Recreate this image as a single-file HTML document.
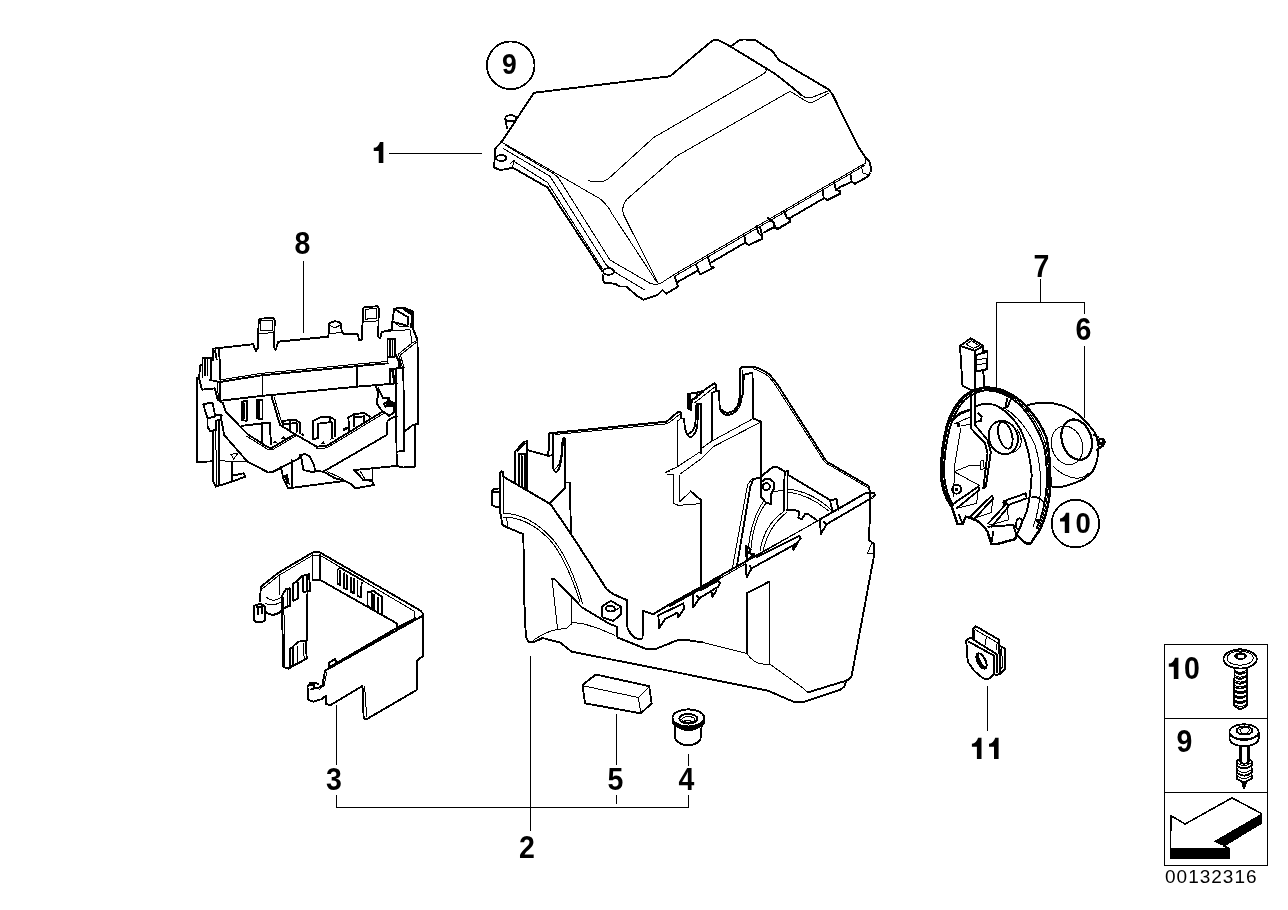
<!DOCTYPE html>
<html><head><meta charset="utf-8">
<style>
html,body{margin:0;padding:0;background:#fff;}
body{width:1288px;height:910px;overflow:hidden;font-family:"Liberation Sans",sans-serif;}
svg{display:block;position:absolute;left:0;top:0;filter:grayscale(1);}
svg *{vector-effect:non-scaling-stroke;}
.k{fill:none;stroke:#000;stroke-width:1.9;stroke-linejoin:round;stroke-linecap:round;}
.n{fill:none;stroke:#000;stroke-width:1;stroke-linejoin:round;stroke-linecap:round;}
.l{fill:none;stroke:#000;stroke-width:1;}
.b{font-family:"Liberation Sans",sans-serif;font-weight:bold;font-size:28.5px;fill:#000;text-anchor:middle;}
.w{fill:#fff;}
</style></head>
<body>
<svg width="1288" height="910" viewBox="0 0 1288 910" shape-rendering="crispEdges">
<rect x="0" y="0" width="1288" height="910" fill="#fff"/>
<!-- LABELS -->
<g id="labels">
<path d="M9.6,-21.2 V0 H5 V-12.2 H0 V-15.3 Q4.5,-15.6 6.2,-21.2 Z" transform="translate(373.75,163.1) scale(1)" fill="#000" shape-rendering="geometricPrecision"/>
<text class="b" transform="translate(527,858) scale(1,1.09)">2</text>
<text class="b" transform="translate(334,790) scale(1,1.09)">3</text>
<text class="b" transform="translate(686.5,790) scale(1,1.09)">4</text>
<text class="b" transform="translate(615.3,790) scale(1,1.09)">5</text>
<text class="b" transform="translate(1083.4,339.5) scale(1,1.09)">6</text>
<text class="b" transform="translate(1041.3,277) scale(1,1.09)">7</text>
<text class="b" transform="translate(302.4,254) scale(1,1.09)">8</text>
<path d="M9.6,-21.2 V0 H5 V-12.2 H0 V-15.3 Q4.5,-15.6 6.2,-21.2 Z" transform="translate(971.9,759) scale(1)" fill="#000" shape-rendering="geometricPrecision"/><path d="M9.6,-21.2 V0 H5 V-12.2 H0 V-15.3 Q4.5,-15.6 6.2,-21.2 Z" transform="translate(989,759) scale(1)" fill="#000" shape-rendering="geometricPrecision"/>
<text class="b" transform="translate(509.3,73.8) scale(1,1.09)" style="font-size:26.5px">9</text>
<path d="M9.6,-21.2 V0 H5 V-12.2 H0 V-15.3 Q4.5,-15.6 6.2,-21.2 Z" transform="translate(1060,533.1) scale(0.96)" fill="#000" shape-rendering="geometricPrecision"/><text class="b" transform="translate(1083.1,533) scale(1,1.09)" style="font-size:27.5px">0</text>
<path d="M9.6,-21.2 V0 H5 V-12.2 H0 V-15.3 Q4.5,-15.6 6.2,-21.2 Z" transform="translate(1168.8,678.9) scale(1)" fill="#000" shape-rendering="geometricPrecision"/><text class="b" transform="translate(1192,678.7) scale(1,1.09)">0</text>
<text class="b" transform="translate(1184.4,751.5) scale(1,1.09)">9</text>
<text x="1165" y="883" style="font-family:'Liberation Sans',sans-serif;font-size:19px;letter-spacing:1.0px;fill:#000">00132316</text>
</g>
<!-- LEADERS -->
<g id="leaders" class="l">
<path d="M389,153.4H481.5"/>
<path d="M303.2,261V332.5"/>
<path d="M336.3,705.3V764.5M336.4,795V807.2H688.6V795M688.4,754V766M616.3,714V764.5M616.1,795V804M530.4,656V831"/>
<path d="M1040.5,279V302M996.5,387V302H1084.5V314M1084.5,346V418"/>
<path d="M987.5,686V731"/>
<circle cx="510.75" cy="65.3" r="23.8" style="stroke-width:1.8"/>
<circle cx="1075.4" cy="523.6" r="23.7" style="stroke-width:1.8"/>
<path d="M1164.5,644.5H1267.7V865.4H1164.5ZM1164.5,718.5H1267.7M1164.5,792.5H1267.7" style="stroke-width:1.4"/>
</g>
<!-- ARROW -->
<g id="arrow">
<path d="M1170.9,815.7L1185.1,824L1232,797.9L1261.6,813.6L1261.6,822.9L1223.7,846L1229.4,848.6V858.3H1170.4Z" fill="#fff" stroke="#000" stroke-width="1.6" stroke-linejoin="round"/>
<path d="M1261.6,813.6V822.9L1223.7,846L1213.7,841.4Z" fill="#000"/>
<path d="M1170.4,848.3H1229.4V858.3H1170.4Z" fill="#000"/>
</g>

<!-- PART 1 COVER : coords in 4x zoom space, origin (470,20) -->
<g id="cover" transform="translate(470,20) scale(0.25)">
<path class="k" d="M128,485 L256,291 L800,225 L960,90 Q980,72 1000,84 L1040,105 L1220,215 L1280,262 L1325,300"/>
<path class="k" d="M1045,105 L1075,82 Q1085,77 1100,78 L1140,80 L1210,125 L1235,160 L1435,278 L1450,298 L1555,510 L1582,550 L1597,565 L1605,595 L1602,610 L1590,627 L1540,655 L1527,647 L1522,620"/>
<path class="n" d="M1582,550 L1582,572 L1565,585 L1572,612 L1592,618"/>
<path class="k" d="M128,485 L100,515 L97,590 L120,600 L155,595 L170,590 L310,670 L528,1003"/>
<path class="k" d="M530,1020 L535,1050 L580,1055 L600,1066 L625,1066 L670,1105 L695,1119 L750,1100 L770,1080 L785,1095 L832,1066 L818,1026"/>
<ellipse class="k" cx="555" cy="1006" rx="22" ry="13"/>
<ellipse class="k" cx="125" cy="552" rx="20" ry="12"/>
<ellipse class="k" cx="163" cy="393" rx="22" ry="12"/>
<path class="k" d="M141,395 L148,432"/>
<path class="n" d="M160,575 L180,560 L168,588"/>
<!-- bottom tabs -->
<path class="k" d="M1522,649 L1477,670 L1465,680"/>
<path class="k" d="M1455,647 L1465,680 L1480,685 L1480,695 L1430,720 L1415,712 L1410,680"/>
<path class="k" d="M1412,715 L1280,792"/>
<path class="k" d="M1255,765 L1267,790 L1280,797 L1280,807 L1232,835 L1220,832 L1215,810 L1190,792" style="stroke-width:2.2"/>
<path class="k" d="M1220,827 L1175,850"/>
<path class="k" d="M1147,822 L1152,850 L1167,865 L1170,875 L1115,900 L1102,892 L1097,862 M1160,828 L1168,860" style="stroke-width:2"/>
<path class="k" d="M1102,890 L968,968"/>
<path class="k" d="M950,945 L963,985 L975,990 L920,1018 L905,980"/>
<path class="k" d="M910,1003 L830,1048"/>
<!-- thin -->
<path class="n" d="M130,490 L520,715 Q550,740 565,770 L745,1045"/>
<path class="n" d="M140,500 L335,615 Q352,625 362,645 L560,960 L720,1053 Q745,1062 765,1052 L820,1016 L1575,576"/>
<path class="n" d="M135,515 L320,625 L545,980 L590,1015 L700,1080"/>
<path class="n" d="M175,565 L310,650 L530,995"/>
<path class="n" d="M824,1022 L1578,582"/>
<path class="n" d="M475,643 Q520,655 550,638 L735,470 L1170,218 Q1192,205 1180,192"/>
<path class="n" d="M1435,292 L1378,326 Q1360,335 1345,325 L1280,285 L825,545 L630,715 Q603,742 615,780 L750,1048"/>
<path class="n" d="M1325,300 Q1345,318 1372,308 L1435,283"/>
</g>

<!-- PART 8 : coords in 6x zoom space, origin (190,290) -->
<g id="p8" transform="translate(190,290) scale(0.166667)">
<path class="k" d="M140,352 L380,325 L395,368 L408,345 L412,180 L420,172 L500,168 L508,180 L505,345 L515,358 L530,310 L830,280 L835,205 Q845,190 870,188 Q900,190 905,205 L910,245 L925,265 L1005,262 L1015,300 L1030,300 L1040,110 L1048,102 L1125,98 L1132,112 L1130,280 L1140,292 L1150,252 L1210,238 L1215,185 L1225,112 L1280,105 L1340,130 L1338,232 L1365,300 L1370,805 L1340,808 L1285,850"/>
<path class="n" d="M425,185 L495,182 L497,240 L425,245 Z M415,262 L505,255"/>
<path class="n" d="M1052,115 L1120,112 L1122,170 L1052,175 Z M1042,192 L1130,185"/>
<path class="n" d="M845,215 Q870,235 898,212 M835,262 L910,255"/>
<path class="k" d="M1228,115 L1310,165 L1305,215 L1215,190"/>
<path d="M1280,105 L1340,130 L1338,232 L1322,225 L1325,150 L1275,118 Z" fill="#000"/>
<path class="n" d="M1225,195 L1260,220 L1310,218 M1150,250 L1320,238 L1332,318"/>
<path class="n" d="M1365,300 L1330,320 L1250,385 L1275,465 M1360,312 L1335,332 L1262,390 L1285,465"/>
<path class="k" d="M1185,435 L1185,295 L1230,295 L1230,400 L1185,400 M1198,300 L1198,395 M1215,300 L1215,395"/>
<path class="k" d="M1230,380 L1255,430 L1258,465" style="stroke-width:2.5"/>
<!-- beam -->
<path class="n" d="M178,540 L430,500 L1000,445 L1188,428"/>
<path class="k" d="M120,540 L178,552 L430,512 L1000,457 L1188,440"/>
<path class="k" d="M178,552 L178,665 L435,635 L1000,580 L1130,570 L1240,560"/>
<path class="n" d="M165,548 L170,660 M433,505 L433,635"/>
<path class="k" d="M1000,450 L1000,580" style="stroke-width:2.2"/>
<path class="k" d="M1200,560 L1200,475 L1280,465 L1285,965 L1245,970 M1235,480 L1240,1055"/>
<path class="k" d="M1215,482 L1228,555" style="stroke-width:2.5"/>
<!-- left top corner / clip -->
<path class="k" d="M140,352 L140,420 L125,425 M175,350 L182,540 M150,362 L160,415"/>
<path class="k" d="M75,520 L75,410 L125,408 L128,535 M60,455 L75,445 M90,420 L90,510 M105,420 L105,510 M60,455 L55,530 L40,530 L40,1032 L135,1028"/>
<path class="k" d="M55,530 L72,598 L150,590 L165,657 L185,672"/>
<!-- left flag clip + leg -->
<path class="k" d="M80,685 L135,675 L150,750 L190,750 L185,775 L155,785 L155,840 L120,845 L105,820 L105,770 L95,740 Z M105,770 L150,760"/>
<path class="k" d="M140,845 L140,1150 L155,1180 L250,1150 L250,1030 M175,785 L175,1170 M250,1115 L320,1100 L332,1120 L250,1150"/>
<path class="n" d="M155,845 L158,1170 M175,1025 L345,1030 M245,985 L285,982 L262,1015 Z"/>
<!-- tray clips -->
<path class="k" d="M310,780 L310,670 L340,665 L340,785 L310,780 M322,680 L322,775 M400,770 L400,662 L435,658 L435,775 L400,770 M415,670 L415,770"/>
<path class="k" d="M310,815 L480,795 L485,925 M430,800 L435,915"/>
<path class="k" d="M195,675 L215,730 L345,865 L470,945 L490,948 L630,865"/>
<path class="n" d="M340,877 L468,957 L492,960 L632,877"/>
<path class="k" d="M490,640 L540,810 L630,865 L760,940 L820,935 L1155,730"/>
<path class="n" d="M505,645 L552,800 M760,952 L822,947 L1160,742"/>
<path class="k" d="M560,815 L560,785 L630,778 L660,795 L660,860 M600,785 L600,835 M570,805 L640,798 L640,850"/>
<path class="k" d="M740,895 L740,785 L780,765 L840,760 L870,780 L870,875 M770,802 L770,888 L740,895 M770,802 L850,792 L850,880 M840,760 L840,792"/>
<path class="k" d="M955,840 L950,765 L985,745 L1045,738 L1078,760 M985,745 L985,815 M985,765 L1045,758 L1045,785"/>
<path d="M495,920 l15,-18 l12,14 z M545,895 l15,-20 l14,16 z M660,870 l18,-15 l12,25 z M780,925 l20,-18 l15,18 z M835,900 l18,-18 l14,10 z M915,850 l5,-20 l25,-10 l10,10 z" fill="#000"/>
<!-- right end -->
<path class="k" d="M1115,575 L1130,620 L1120,680 L1155,730 M1130,590 L1160,650 L1195,645 L1195,665 L1165,680 L1170,700 L1225,695 L1225,735 L1195,755 L1160,730"/>
<path d="M1185,655 L1235,675 L1235,700 L1175,695 Z" fill="#000"/>
<!-- front band -->
<path class="k" d="M185,765 L205,870 L345,1030 L470,1095 L500,1090 L655,1010 L660,990 L690,985 L720,1000 L745,1050 L750,1085 L800,1090 L1180,870 L1185,785 L1225,760 L1240,760"/>
<path class="k" d="M545,1060 L560,1130 L590,1190 L930,1145 M610,1020 L610,1182 M665,990 L680,1080 L745,1095"/>
<path d="M560,1110 L585,1105 L600,1170 L580,1160 Z" fill="#000"/>
<path class="k" d="M810,1095 L870,1130 L930,1145 L960,1160 L990,1190 L1105,1170 L1090,1145 L1040,1140 L985,1080 L1095,1070 L1095,1142 M1095,1070 L1240,1055"/>
<path class="n" d="M1020,1085 L1050,1135 L1090,1135 M825,1090 L920,1135"/>
<path class="k" d="M1350,808 L1350,1060 L1280,1065 L1240,1055"/>
</g>

<!-- PART 3 : coords in 6x zoom space, origin (240,540) -->
<g id="p3" transform="translate(240,540) scale(0.166667)">
<path class="k" d="M120,365 L125,280 L225,200 L435,75 L475,72 L1085,425 L1100,445 L1100,695 L1060,725 L1060,900 L760,1075 L742,1070 L735,875 L545,990 L515,985 L515,935 L490,955 L440,970 L410,960 L405,880 L420,860 L450,855 L470,865"/>
<path class="k" d="M1090,458 L510,785 L495,870 L470,888 L440,892"/>
<path class="k" d="M1050,470 L940,528 L545,758"/>
<path class="n" d="M520,795 L505,872 L478,895 M748,880 L760,1060"/>
<path class="n" d="M135,292 L230,215 L435,92 L478,90 L1050,430 L1045,478 L1018,495"/>
<path class="k" d="M435,80 L435,240 L482,240 L482,88 M482,240 L940,500 L945,527"/>
<path class="n" d="M236,205 L238,330"/>
<!-- boss -->
<path class="k" d="M82,400 L82,478 Q90,495 115,495 Q145,492 150,478 L150,400 Q140,385 115,385 Q90,388 82,400"/>
<path class="k" d="M98,402 L130,400 L130,440 M110,405 L110,445"/>
<path class="n" d="M160,345 Q200,378 245,345 M150,380 Q200,400 245,372"/>
<path class="k" d="M150,430 Q200,470 250,425"/>
<!-- side panel -->
<path class="k" d="M250,340 L260,762 L290,772 L400,712 M405,310 L400,605"/>
<path class="k" d="M250,340 L275,295 L300,290 L300,395 L260,410 M320,260 L345,245 L350,350 L320,365 Z M375,215 L415,205 L420,305 L380,312 Z M400,210 L400,308 M345,245 L375,215"/>
<path class="n" d="M262,345 L270,760 M285,295 L285,400"/>
<path class="k" d="M300,655 L350,610 L395,605 L400,710 L345,740 L300,760 Z M320,650 L320,750 M345,640 L345,735"/>
<path class="n" d="M380,620 L385,715"/>
<!-- back slats -->
<path class="k" d="M585,265 L585,180 L600,165 L740,245 M600,185 L600,270 L585,265 M625,200 L625,290 L640,295 L640,210 M665,225 L665,310 L685,320 L685,235 M705,245 L705,335 L725,342 L730,255"/>
<path class="k" d="M765,395 L765,315 L800,305 L850,340 L855,450 L830,440 L830,345 M790,320 L790,410 L765,395 M805,330 L805,420"/>
<!-- front tab & hook -->
<path class="k" d="M535,765 L535,735 L570,715 L585,740"/>
<path class="k" d="M420,872 L442,865 L442,892 L425,897"/>
</g>

<!-- PART 2 BOX : six 6x views -->
<g id="p2">
<g transform="translate(480,360) scale(0.166667)"><!-- N1 -->
<path class="k" d="M120,770 L85,775 L70,790 L72,870 L100,885 L120,880 M85,792 L118,790"/>
<path class="k" d="M210,740 L212,548 L265,490 L285,488 L282,540 L282,780 M232,565 L232,750 M250,575 L252,762 M268,570 L270,775 M235,562 L270,563"/>
<path class="n" d="M222,548 L272,500"/>
<path class="k" d="M282,540 L410,575 L440,570"/>
<path class="k" d="M410,575 L415,440 L1120,370 L1140,352" style="stroke-width:2"/>
<path class="n" d="M450,447 L1120,383 L1140,372"/>
<path class="k" d="M440,442 L438,640 Q445,680 465,668 Q492,630 497,480 Q502,462 510,475 L512,735 L540,735"/>
<path class="n" d="M452,650 Q478,640 488,560 L492,490"/>
<path class="n" d="M1110,675 L1140,665"/>
</g>
<g transform="translate(670,360) scale(0.166667)"><!-- N2 -->
<path class="k" d="M0,352 L50,310 L65,315 L68,350 L85,352 L88,400 Q100,470 130,460 Q160,440 165,380 L168,262"/>
<path class="k" d="M100,445 Q140,440 152,385 L158,270"/>
<path class="n" d="M0,372 L55,328 M68,350 L45,365 L45,640"/>
<path class="k" d="M105,205 L160,195 L200,185 L265,140 L278,148 L278,185 L295,185 L298,290 Q320,350 380,320 Q420,280 420,180 L422,50 L435,40 L505,40 Q565,60 600,90 Q632,125 660,170 L930,595 Q936,606 948,614 L1190,755 L1200,790"/>
<path class="k" d="M105,205 L108,290 L128,300 L130,240 L160,225 L160,195 M130,240 L200,190 M160,262 L185,265 L185,560 M250,200 L250,480 M250,200 L278,185"/>
<path class="k" d="M112,212 L112,285 M120,212 L122,290" />
<path class="n" d="M150,255 L265,165"/>
<path class="k" d="M310,300 Q340,332 385,302 Q435,250 440,180 L442,90 L495,75 L498,350 L545,370 L545,700"/>
<path class="n" d="M305,312 Q345,348 395,312 Q440,268 432,180 L432,60"/>
<path class="n" d="M500,52 Q560,72 592,100 Q625,135 650,178 L922,603 Q930,615 942,622 L1185,765"/>
<path class="n" d="M-30,675 L45,640 L185,548 M190,530 L245,490 L498,352 M60,685 L190,590 L260,520 L545,372"/>
<path class="n" d="M-15,688 L20,685 L20,860 L50,872 L185,862 M58,690 L58,850 L125,788"/>
</g>
<g transform="translate(480,470) scale(0.166667)"><!-- N3 -->
<path class="k" d="M120,20 L120,245 L135,330 L165,345 L260,385 L266,790"/>
<path class="k" d="M120,20 L127,8 L137,12 L140,40 L415,200 L430,215 L540,375 L760,715 L800,745 L880,780" style="stroke-width:2"/>
<path class="k" d="M420,200 L510,110 M512,75 L512,110 M540,75 L545,375"/>
<path class="n" d="M140,45 L140,260 Q300,262 440,420 Q540,540 615,800 M140,282 L160,285 L165,340 M150,282 Q300,288 430,432 Q520,545 600,790"/>
<path class="k" d="M430,652 L445,652 L545,755 L612,825 L730,895"/>
</g>
<g transform="translate(670,470) scale(0.166667)"><!-- N4 -->
<path class="k" d="M-100,865 L0,805 L300,638" style="stroke-width:2"/>
<path class="n" d="M300,638 L450,555 L900,296"/>
<path class="k" d="M900,296 L1180,135 L1225,140" style="stroke-width:2"/>
<path class="k" d="M0,816 L300,650"/>
<path class="n" d="M260,655 L450,548 L900,298 M270,668 L455,562"/>
<path class="k" d="M125,128 L185,180 L185,700"/>
<path class="k" d="M545,40 L620,-20 L640,-20 L690,10 L710,5 L710,30 L960,180 L1000,175 L1010,240" style="stroke-width:2"/>
<path class="k" d="M545,40 L545,160 L575,195 L605,205 L605,150 L625,110 L625,75 L600,55 L570,55 L545,75"/>
<circle class="k" cx="578" cy="100" r="21"/>
<path class="n" d="M545,45 L495,50 L465,90 L375,585"/>
<path class="k" d="M545,45 L500,55 L482,100 L402,572"/>
<path class="n" d="M625,130 L680,120 M708,30 L702,240"/>
<path class="k" d="M688,10 L682,245"/>
<path class="n" d="M560,190 Q485,300 470,470 M575,200 Q500,300 485,475 M680,250 Q565,330 540,485 M700,255 Q590,340 560,480"/>
<path class="n" d="M708,115 Q850,130 962,235 M708,132 Q840,150 950,245"/>
<path class="k" d="M700,240 L750,240 L775,250 L770,285 L790,295 L810,265 L830,265 L880,300 M960,180 L975,252"/>
<path class="k" d="M900,305 L905,385 L940,325 L1215,165 L1230,150 L1225,140 M925,312 L940,325 M1190,95 L1200,135"/>
<path class="k" d="M455,570 L460,645 L490,590 L760,440 L785,410 L775,395 L520,522 M735,455 L740,480 L765,440 M478,575 L490,590"/>
<path class="k" d="M458,455 L485,478 L470,500 L505,505 L470,540 L458,520 Z M462,470 L462,540 M475,490 L500,515" />
<path class="k" d="M140,750 L140,825 L175,770 L290,700 L300,680 L290,665 L180,722 M250,735 L255,760 L280,720 M160,755 L175,770"/>
<path class="k" d="M-70,870 L-65,950 L-30,895 L45,855 L50,885 L85,830 L80,800 L-65,870"/>
<path class="k" d="M1200,135 L1200,210 L1195,420 L1225,445 L1225,510 L1197,660"/>
<path class="n" d="M1185,500 L1210,440 M1185,500 L1222,500"/>
</g>
<g transform="translate(480,580) scale(0.166667)"><!-- N5 -->
<path class="k" d="M266,130 L275,340 L290,370 L330,370 L375,348 L480,375 L550,430 L1140,546"/>
<path class="n" d="M320,362 Q400,305 470,296 L520,290 L555,255 L620,262 Q720,290 810,332 M432,-8 L465,290 M548,100 L548,265"/>
<path class="k" d="M730,235 L770,260 L820,280 L825,345 L1000,415 L1050,415 L1140,380"/>
<path class="k" d="M730,160 L785,125 L845,160 L848,205 L800,245 L735,225 Z"/>
<ellipse class="k" cx="782" cy="172" rx="27" ry="17"/>
<path class="n" d="M800,190 L845,162"/>
<path class="k" d="M880,120 L885,290 Q920,370 975,350 L980,185 L1040,205"/>
<path class="n" d="M892,295 Q915,340 945,352"/>
</g>
<g transform="translate(670,580) scale(0.166667)"><!-- N6 -->
<path class="k" d="M0,546 L590,665 L740,730 L810,730 L1020,660 L1045,640 L1055,610"/>
<path class="k" d="M1197,0 L1090,575 L1075,595 L1055,605 L825,675"/>
<path class="k" d="M0,380 Q40,355 100,360 L200,375"/>
<path class="n" d="M200,375 L460,440 Q500,500 560,505 L600,505 L800,650 L825,675 M595,10 L600,505"/>
<path class="k" d="M460,440 L460,80 L595,10"/>
</g>
</g>
<!-- PART 5 block -->
<g id="p5" transform="translate(480,580) scale(0.166667)">
<path class="k" d="M615,630 L695,567 L1015,637 L1030,740 L965,800 L630,740 Z"/>
<path class="n" d="M620,635 L950,705 L1015,640 M950,705 L965,800"/>
</g>

<!-- PART 4 grommet: 12x, origin (640,690) -->
<g id="p4" transform="translate(640,690) scale(0.083333)">
<ellipse class="k" cx="580" cy="335" rx="190" ry="103"/>
<path class="k" d="M390,335 L392,400 Q580,565 768,400 L772,335 M415,430 L425,590 Q480,660 575,665 Q680,655 725,600 L740,430"/>
<path class="k" d="M405,395 Q580,520 755,395"/>
<ellipse class="k" cx="580" cy="345" rx="108" ry="58"/>
<ellipse class="n" cx="580" cy="355" rx="78" ry="34"/>
<ellipse cx="575" cy="375" rx="50" ry="14" fill="#000"/>
<ellipse cx="575" cy="378" rx="22" ry="5" fill="#fff"/>
</g>

<!-- PARTS 6/7 housing: 6x, origin (930,330) -->
<g id="p67" transform="translate(930,330) scale(0.166667)">
<!-- connector -->
<path class="k" d="M180,95 L245,50 L320,95 L320,130 L345,125 L345,165 L340,235 L320,245 L325,345 L270,370 L195,335 Z"/>
<path class="k" d="M180,95 L270,125 L320,95 M270,125 L270,370"/>
<path class="n" d="M215,85 L250,65 L295,95 L262,110 Z"/>
<path class="k" d="M275,150 L340,132 M275,150 L275,250 L338,235"/>
<path class="n" d="M285,180 L338,168 M285,210 L338,198"/>
<!-- wire -->
<path class="k" d="M248,365 L245,590 L330,680 L345,740 L320,950 M270,370 L270,570 L345,660 L365,730 L335,940 L320,950"/>
<path class="n" d="M300,790 L320,780 L325,830 L305,840 Z"/>
<!-- outer rim -->
<path class="k" d="M330,345 Q260,355 200,400 Q130,470 100,580 Q65,720 65,870 Q75,990 130,1060 L165,1165 L195,1165 L215,1120" style="stroke-width:2.4"/>
<path class="n" d="M322,352 Q262,362 206,406 Q140,474 108,584 Q74,722 74,870 Q84,988 136,1055"/>
<path class="k" d="M330,345 Q450,340 560,440 Q660,540 700,650 Q725,780 722,940 Q715,1080 660,1200 L640,1225 L605,1280 L575,1280 L520,1230 L510,1255 L400,1285 L370,1285 L345,1210 Q310,1150 250,1130 L215,1120" style="stroke-width:2.4"/>
<path class="k" d="M118,590 Q150,480 212,415 Q270,372 330,362 Q440,358 545,455 Q640,560 685,700 Q705,800 700,940 Q690,1080 640,1190"/>
<path class="k" d="M118,590 Q82,740 84,870 Q95,985 140,1050"/>
<path class="n" d="M330,355 Q445,350 552,448 Q650,550 692,680 Q715,790 710,940 Q700,1080 650,1195"/>
<path class="k" d="M280,455 Q330,435 390,450 Q480,490 545,600 Q600,720 610,870 Q605,990 580,1090 L520,1230"/>
<path class="n" d="M450,470 Q560,540 630,690 Q665,800 665,940 Q660,1060 620,1180"/>
<path class="k" d="M130,545 L180,500 L245,478" style="stroke-width:2.6"/>
<path class="n" d="M150,562 L245,520 M190,575 L240,565 M185,590 L150,800 L140,1000 M145,850 L240,812 L300,815 M145,850 L300,935"/>
<circle cx="172" cy="570" r="12" fill="#000"/>
<path class="k" d="M290,500 L310,520 L305,545 L280,550"/>
<path class="k" d="M445,468 L468,460 L482,420 M462,415 L455,455"/>
<!-- inner ring -->
<ellipse class="k" cx="440" cy="645" rx="86" ry="102" transform="rotate(-20 440 645)"/>
<ellipse class="k" cx="452" cy="632" rx="40" ry="82" transform="rotate(-15 452 632)"/>
<path class="n" d="M525,600 Q560,650 540,700 Q520,735 470,742"/>
<!-- bottom ribs -->
<circle class="k" cx="160" cy="955" r="27"/>
<rect x="150" y="945" width="20" height="20" fill="#000"/>
<path class="k" d="M130,1050 L290,940 L295,960 L160,1070 M240,1120 L370,995 L380,1010 L260,1140 M350,1160 L460,1040 L470,1060 L370,1180"/>
<path class="n" d="M160,1070 L280,1040 L290,950 M260,1130 L370,1095 L375,1005 M355,1170 L470,1140 L465,1060"/>
<circle cx="450" cy="1035" r="15" fill="#000"/>
<path class="k" d="M460,1020 L575,980 L580,1010 L470,1050"/>
<path class="k" d="M380,1210 L370,1270 M350,1180 L500,1170 L520,1230 M175,1110 L190,1150"/>
<path class="k" d="M520,1140 Q540,1120 555,1140 L540,1190 Q520,1200 515,1180 Z M610,1005 Q650,995 680,1030"/>
<circle cx="645" cy="1145" r="11" fill="#000"/>
<!-- cap (6) -->
<path class="k" d="M585,450 Q700,420 800,455 Q900,490 985,610 L1000,640 L1012,700 Q1010,790 975,850 Q930,900 860,920 Q790,950 735,940"/>
<ellipse class="k" cx="880" cy="658" rx="88" ry="124" transform="rotate(-18 880 658)" style="stroke-width:2.2"/>
<ellipse class="n" cx="822" cy="692" rx="92" ry="118" transform="rotate(-18 822 692)"/>
<path class="n" d="M740,820 Q800,880 880,890 Q930,885 950,860"/>
<circle cx="1030" cy="670" r="24" fill="#000"/><circle cx="1024" cy="664" r="7" fill="#fff"/>
<path class="k" d="M985,630 L1010,645 M1000,720 L1040,695"/>
</g>

<!-- PART 11 clip: 12x, origin (950,615) -->
<g id="p11" transform="translate(950,615) scale(0.083333)">
<path class="k" d="M200,380 L195,305 L250,270 L280,290 L280,160 L310,135 L585,295 L585,360 L665,410 L665,640 L600,710 L545,720 L530,700 L480,760 Q440,778 390,755 L290,670 L220,570 L210,520 Z"/>
<path class="k" d="M250,275 L560,470 L560,690 M225,320 L530,490 L530,700 M600,420 L600,700 M585,360 L585,460"/>
<path class="n" d="M300,175 L565,330 L562,420 M435,255 L425,355 M300,175 L298,295 M620,400 L630,620 L590,690"/>
<ellipse cx="378" cy="552" rx="60" ry="112" transform="rotate(-28 378 552)" fill="#000"/>
<ellipse cx="388" cy="545" rx="20" ry="82" transform="rotate(-28 388 545)" fill="#fff"/>
</g>

<!-- SCREW 10: 11.3x, origin (1160,640) -->
<g id="s10" transform="translate(1160,640) scale(0.0885)">
<ellipse class="k" cx="905" cy="215" rx="188" ry="108" style="stroke-width:1.8"/>
<ellipse class="n" cx="905" cy="205" rx="148" ry="80"/>
<ellipse cx="910" cy="182" rx="72" ry="42" fill="#000"/>
<ellipse cx="915" cy="185" rx="38" ry="18" fill="#fff"/>
<path class="k" d="M890,105 Q905,90 920,105"/>
<path class="k" d="M842,320 L840,745 L905,785 L978,745 L978,320"/>
<path class="n" d="M842,345 Q905,385 978,345 M842,400 Q905,440 978,400 M842,455 Q905,495 978,455 M842,510 Q905,550 978,510 M842,565 Q905,605 978,565 M842,620 Q905,660 978,620 M842,675 Q905,715 978,675 M842,730 Q905,770 978,730"/>
<path class="k" d="M860,370 Q905,400 960,365 M860,425 Q905,455 960,420 M860,480 Q905,510 960,475 M860,535 Q905,565 960,530 M860,590 Q905,620 960,585 M860,645 Q905,675 960,640 M860,700 Q905,730 960,695"/>
</g>
<!-- SCREW 9: 11.3x, origin (1160,715) -->
<g id="s9" transform="translate(1160,715) scale(0.0885)">
<path class="k" d="M785,190 L785,270 Q800,345 950,352 Q1100,345 1115,270 L1115,190" style="stroke-width:1.8"/>
<ellipse class="k" cx="950" cy="190" rx="165" ry="86" style="stroke-width:1.8"/>
<ellipse class="k" cx="955" cy="175" rx="88" ry="46"/>
<path class="n" d="M800,240 Q950,335 1100,240 M900,165 L935,145 L990,145 L1015,170 L985,205 L925,205 Z"/>
<path class="k" d="M900,355 L900,520 M915,360 L915,540 M995,360 L995,540 M1010,355 L1010,520"/>
<path class="k" d="M915,540 Q950,560 995,540" />
<path class="k" d="M865,520 L865,570 Q950,640 1035,570 L1035,520 L1010,505 M865,520 L895,505 M865,600 L865,650 Q950,720 1035,650 L1035,600 M865,680 L865,720 L925,750 L950,830 L975,750 L1035,720 L1035,680"/>
<path class="n" d="M880,545 Q950,600 1020,545 M880,625 Q950,680 1020,625 M880,695 Q950,740 1020,695"/>
<path class="k" d="M940,760 L950,820 L962,760"/>
</g>

<!--PARTS-->
</svg>
</body></html>
